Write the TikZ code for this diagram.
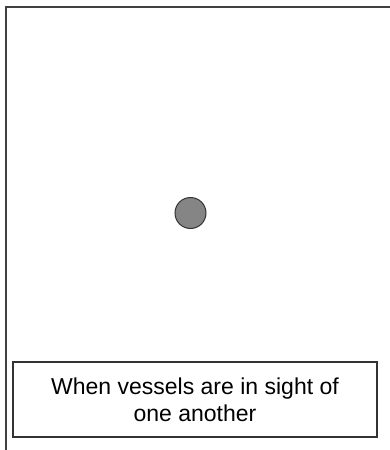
\documentclass[tikz,border=0pt]{standalone}
\usepackage{fontspec}
\setmainfont{Liberation Sans}
\usepackage{tikz}
\usetikzlibrary{positioning, calc}
\tikzset{every node/.style={font=\fontsize{23}{27}\selectfont}}
\colorlet{framecol}{black!75}
\colorlet{boxcol}{black!80}
\colorlet{vesselfill}{black!48}
\colorlet{vesseldraw}{black!80}

\begin{document}
\begin{tikzpicture}[x=1pt, y=-1pt]

\useasboundingbox (0,0) rectangle (390,450);

% Outer frame
\coordinate (fbl) at (6,452);
\coordinate (ftl) at (6,7);
\coordinate (ftr) at (392,7);
\draw[line width=1.6pt, framecol] (fbl) -- (ftl) -- (ftr);

% Vessel
\node[circle, draw=vesseldraw, fill=vesselfill, line width=1pt,
      minimum size=31pt, inner sep=0pt] (vessel) at (190.5,213) {};

% Caption
\node[draw=boxcol, line width=1.3pt, minimum width=364pt, minimum height=75pt,
      align=center, inner sep=0pt] (caption) at (195,399.5)
  {When vessels are in sight of\\one another};

\end{tikzpicture}
\end{document}
